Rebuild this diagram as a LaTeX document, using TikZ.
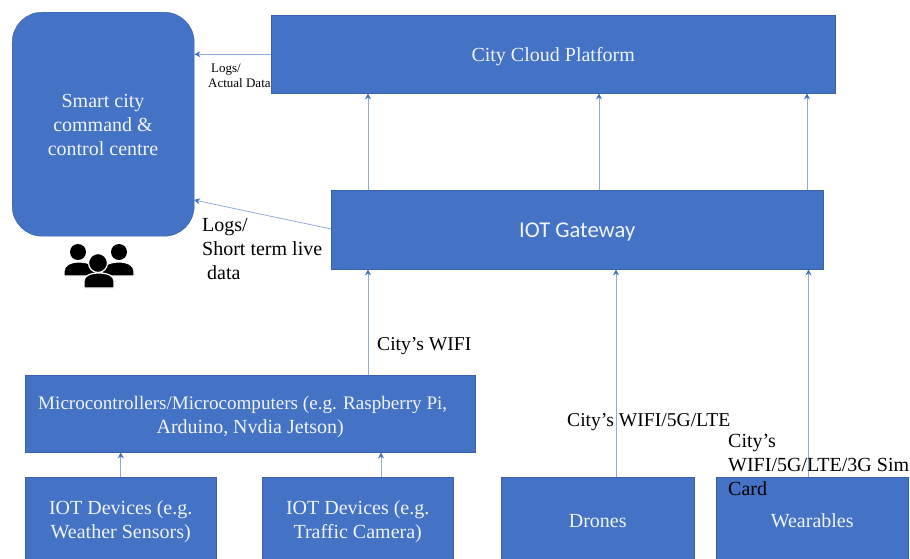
\documentclass[tikz,border=0pt]{standalone}
\usepackage{fontspec}
\setmainfont{Liberation Serif}
\newfontfamily\gatewayfont{Carlito}
\usepackage{xcolor}
\usepackage{tikz}
\usetikzlibrary{arrows.meta}
\definecolor{myblue}{HTML}{4472C4}
\definecolor{mylink}{HTML}{8FAADC}
\tikzstyle{arrow} = [color=mylink,line width=0.8pt,-{Stealth[length=6pt,width=6pt,color=myblue]}]
\tikzstyle{box} = [fill=myblue,draw=myblue!85!black,line width=0.4pt,anchor=north west,inner sep=0pt,align=center,text=white!92!myblue,font=\fontsize{20}{24}\selectfont]
\tikzstyle{label} = [anchor=north west,inner sep=0pt,align=left,text=black,font=\fontsize{20}{24}\selectfont]
\tikzstyle{person} = [fill=black,draw=white,line width=1.2pt]

\begin{document}
\begin{tikzpicture}[x=1pt,y=-1pt]
            \useasboundingbox (0,0) rectangle (910,558);
            % boxes
            \node[box,rounded corners=30pt,minimum width=182pt,minimum height=224pt] (centre) at (12,12) {};
            \node[text=white!92!myblue,align=center,font=\fontsize{20}{24}\selectfont] (centretext) at (103,125) {Smart city\\command \&\\control centre};
            \node[box,minimum width=564pt,minimum height=78pt,text height=19.7pt] (cloud) at (271,15) {City Cloud Platform};
            \node[box,minimum width=492pt,minimum height=79pt,text height=19.5pt,font=\gatewayfont\fontsize{22.6}{27}\selectfont] (gateway) at (331,190) {IOT Gateway};
            \node[box,minimum width=450pt,minimum height=77pt,text height=43.7pt,font=\fontsize{19.1}{24}\selectfont] (micro) at (25,375) {Microcontrollers/Microcomputers (e.g. Raspberry Pi,\hspace*{15pt}\\{\fontsize{20}{24}\selectfont Arduino, Nvdia Jetson)}};
            \node[box,minimum width=191pt,minimum height=86pt,text height=41.7pt] (weather) at (25,477) {IOT Devices (e.g.\\Weather Sensors)};
            \node[box,minimum width=191pt,minimum height=86pt,text height=41.7pt] (camera) at (262,477) {IOT Devices (e.g.\\Traffic Camera)};
            \node[box,minimum width=193pt,minimum height=86pt,text height=15.7pt] (drones) at (501,477) {Drones};
            \node[box,minimum width=192pt,minimum height=86pt,text height=15.7pt] (wearables) at (716,477) {Wearables};
            % links
            \coordinate (linka) at (368,0);
            \coordinate (linkb) at (599,0);
            \coordinate (linkc) at (807,0);
            \coordinate (linkd) at (616,0);
            \coordinate (linke) at (381,0);
            \coordinate (linkf) at (808.5,0);
            \coordinate (centrein) at (194,200);
            \coordinate (gatewayout) at (331,229);
            \draw [arrow] (cloud.west) -- (cloud.west -| centre.east);
            \draw [arrow] (gatewayout) -- (centrein);
            \draw [arrow] (linka |- gateway.north) -- (linka |- cloud.south);
            \draw [arrow] (linkb |- gateway.north) -- (linkb |- cloud.south);
            \draw [arrow] (linkc |- gateway.north) -- (linkc |- cloud.south);
            \draw [arrow] (linka |- micro.north) -- (linka |- gateway.south);
            \draw [arrow] (linkd |- drones.north) -- (linkd |- gateway.south);
            \draw [arrow] (linkf |- wearables.north) -- (linkf |- gateway.south);
            \draw [arrow] (weather.north) -- (weather.north |- micro.south);
            \draw [arrow] (linke |- camera.north) -- (linke |- micro.south);
            % labels
            \node[label,font=\fontsize{13}{15}\selectfont] (logsactual) at (208,63.5) {\hspace*{3pt}Logs/\\Actual Data};
            \node[label] (logsshort) at (202,218) {Logs/\\Short term live\\\hspace*{5pt}data};
            \node[label,font=\fontsize{19.6}{24}\selectfont] (wifi) at (377,337) {City’s WIFI};
            \node[label,font=\fontsize{19.6}{24}\selectfont] (wifilte) at (567,413) {City’s WIFI/5G/LTE};
            \node[label] (wifisim) at (728,434) {City’s\\WIFI/5G/LTE/3G Sim\\Card};
            % people
            \fill [person] (64,276) -- (64,271) .. controls (64,265) and (71,262) .. (79,262) .. controls (87,262) and (96,265) .. (96,271) -- (96,276) -- cycle;
            \fill [person] (134,276) -- (134,271) .. controls (134,265) and (127,262) .. (119,262) .. controls (111,262) and (102,265) .. (102,271) -- (102,276) -- cycle;
            \fill [fill=black] (78,252) circle (8pt);
            \fill [fill=black] (119,252) circle (8pt);
            \filldraw [person] (84,288) -- (84,281) .. controls (84,276) and (90,273) .. (99,273) .. controls (108,273) and (114,276) .. (114,281) -- (114,288) -- cycle;
            \filldraw [person] (98,263) circle (9.5pt);
        \end{tikzpicture}
\end{document}
